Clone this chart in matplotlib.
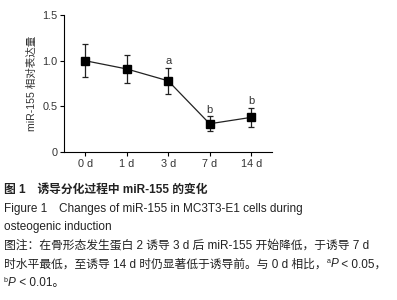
import matplotlib

matplotlib.use("Agg")
import matplotlib.pyplot as plt

plt.rcParams["font.family"] = ["Liberation Sans", "Noto Sans CJK SC", "DejaVu Sans"]

days = ["0 d", "1 d", "3 d", "7 d", "14 d"]
expr = [1.00, 0.91, 0.78, 0.31, 0.38]
err = [0.18, 0.15, 0.14, 0.08, 0.10]
sig = ["", "", "a", "b", "b"]
y_ticks = [0, 0.5, 1.0, 1.5]
y_tick_labels = ["0", "0.5", "1.0", "1.5"]

# each caption line is a list of (text, style) pieces
caption = [
    [("图 1　诱导分化过程中 miR-155 的变化", "bold")],
    [("Figure 1　Changes of miR-155 in MC3T3-E1 cells during", "normal")],
    [("osteogenic induction", "normal")],
    [("图注：在骨形态发生蛋白 2 诱导 3 d 后 miR-155 开始降低，于诱导 7 d", "normal")],
    [("时水平最低，至诱导 14 d 时仍显著低于诱导前。与 0 d 相比，", "normal"),
     ("a", "sup"), ("P", "italic"), (" < 0.05，", "normal")],
    [("b", "sup"), ("P", "italic"), (" < 0.01。", "normal")],
]

fig = plt.figure(figsize=(3.97, 3.0), dpi=100)
ax = fig.add_axes([0.162, 0.493, 0.523, 0.457])

x = list(range(len(days)))
ax.errorbar(x, expr, yerr=err, color="#222222", linewidth=0.9, elinewidth=0.9,
            capsize=2.5, capthick=0.9, marker="s", markersize=5.5,
            markerfacecolor="black", markeredgecolor="black")

for xi, v, e, s in zip(x, expr, err, sig):
    if s:
        ax.text(xi, v + e + 0.02, s, ha="center", va="bottom", fontsize=8,
                color="#333333")

ax.set_xlim(-0.5, 4.5)
ax.set_ylim(0, 1.5)
ax.set_xticks(x)
ax.set_xticklabels(days, fontsize=7.8, color="#333333")
ax.set_yticks(y_ticks)
ax.set_yticklabels(y_tick_labels, fontsize=7.8, color="#333333")
ax.tick_params(length=3, width=0.8, pad=2)
ax.set_ylabel("miR-155 相对表达量", fontsize=7.6, color="#333333", labelpad=4)
for side in ("top", "right"):
    ax.spines[side].set_visible(False)
for side in ("left", "bottom"):
    ax.spines[side].set_linewidth(0.8)

# caption: pieces placed one after another, measured with the renderer
fs = 8.5
W, H = fig.get_size_inches() * fig.dpi
renderer = fig.canvas.get_renderer()
for i, pieces in enumerate(caption):
    base_y = H - (193 + i * 18.6)  # baseline in pixels from bottom
    cur_x = 4
    for text, style in pieces:
        kw = dict(fontsize=fs, color="#222222", ha="left", va="baseline")
        y = base_y
        if style == "bold":
            kw["fontweight"] = "bold"
        elif style == "italic":
            kw["fontstyle"] = "italic"
        elif style == "sup":
            kw["fontsize"] = fs * 0.6
            y = base_y + 4
        t = fig.text(cur_x / W, y / H, text, **kw)
        cur_x = t.get_window_extent(renderer).x1

fig.savefig("out.png", dpi=100)
